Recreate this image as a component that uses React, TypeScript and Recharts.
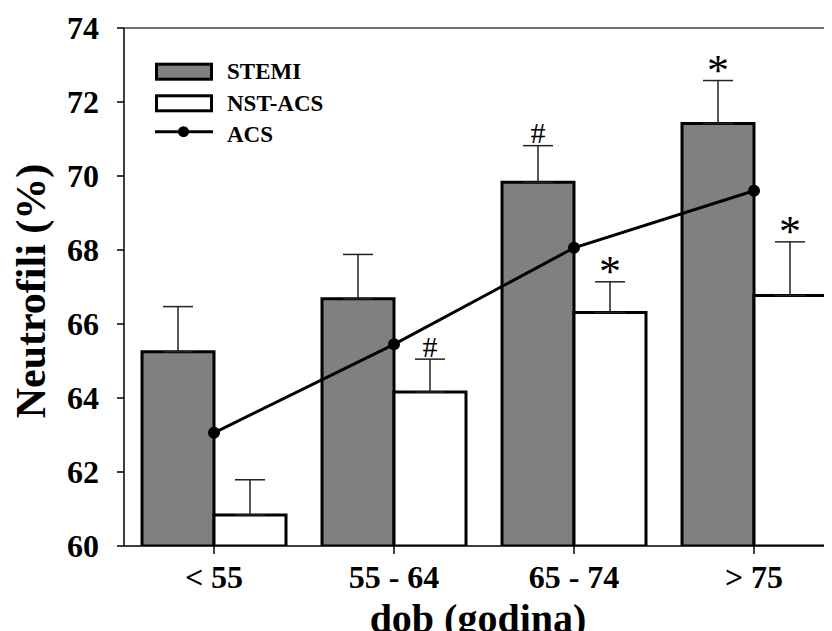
import React from 'react';
import { ComposedChart, Bar, Line, XAxis, YAxis, ErrorBar, ReferenceLine, Legend, Label } from 'recharts';

const categories = ['< 55', '55 - 64', '65 - 74', '> 75'];
const stemi = [65.25, 66.68, 69.83, 71.42];
const stemiErr = [1.22, 1.2, 0.99, 1.16];
const nst = [60.84, 64.16, 66.31, 66.77];
const nstErr = [0.95, 0.89, 0.83, 1.45];
const acs = [63.06, 65.45, 68.06, 69.6];
const stemiMark = ['', '', '#', '*'];
const nstMark = ['', '#', '*', '*'];
const yTicks = [60, 62, 64, 66, 68, 70, 72, 74];

const data = categories.map((c, i) => ({
  cat: c,
  stemi: stemi[i],
  stemiE: [0, stemiErr[i]],
  nst: nst[i],
  nstE: [0, nstErr[i]],
  acs: acs[i],
}));

const FONT = '"Liberation Serif", "Times New Roman", serif';
const BASE = 60;

function makeMark(values: number[], errs: number[], marks: string[]) {
  return (p: any) => {
    let idx = p.index;
    if (idx === undefined || idx === null) idx = values.indexOf(Number(p.value));
    if (idx < 0 || idx === undefined) return null;
    const m = marks[idx];
    if (!m) return null;
    const x = Number(p.x), y = Number(p.y), w = Number(p.width), h = Number(p.height);
    const ppu = h / (values[idx] - BASE);
    const capY = y - errs[idx] * ppu;
    const cx = x + w / 2;
    if (m === '#') {
      return (
        <text x={cx} y={capY - 2.5} textAnchor="middle" fontFamily={FONT} fontSize={30} fill="#000">#</text>
      );
    }
    return (
      <text x={cx} y={capY + 4} textAnchor="middle" fontFamily={FONT} fontSize={44} fill="#000">*</text>
    );
  };
}

const LegendBox = () => (
  <svg width={400} height={160} style={{ display: 'block' }}>
    <rect x={148.5} y={56.2} width={55} height={15} fill="#808080" stroke="#000" strokeWidth={3} />
    <text x={219} y={71.3} fontFamily={FONT} fontWeight="bold" fontSize={23} fill="#000">STEMI</text>
    <rect x={148.5} y={87.8} width={55} height={15} fill="#fff" stroke="#000" strokeWidth={3} />
    <text x={219} y={102.7} fontFamily={FONT} fontWeight="bold" fontSize={23} fill="#000">NST-ACS</text>
    <line x1={147} y1={123.7} x2={205} y2={123.7} stroke="#000" strokeWidth={3} />
    <circle cx={175.5} cy={123.7} r={5.5} fill="#000" />
    <text x={219} y={133.7} fontFamily={FONT} fontWeight="bold" fontSize={23} fill="#000">ACS</text>
  </svg>
);

const XTick = (p: any) => (
  <text x={p.x} y={p.y + 34} textAnchor="middle" fontFamily={FONT} fontWeight="bold" fontSize={32} fill="#000">
    {p.payload.value}
  </text>
);

const YLabel = () => (
  <text x={37} y={283} transform="rotate(-90, 37, 283)" textAnchor="middle" fontFamily={FONT} fontWeight="bold" fontSize={42} fill="#000">
    Neutrofili (%)
  </text>
);

const XLabel = () => (
  <text x={470} y={624} textAnchor="middle" fontFamily={FONT} fontWeight="bold" fontSize={40} fill="#000">
    dob (godina)
  </text>
);

export default function App() {
  return (
    <div style={{ width: 824, height: 623, overflow: 'hidden', position: 'relative', background: '#fff' }}>
      <ComposedChart
        width={840}
        height={640}
        data={data}
        margin={{ top: 20, right: 4, bottom: 0, left: 0 }}
        barCategoryGap="10%"
        barGap={0}
      >
        <XAxis
          dataKey="cat"
          height={102}
          tickSize={8}
          tickMargin={0}
          axisLine={{ stroke: '#000', strokeWidth: 1.5 }}
          tickLine={{ stroke: '#000', strokeWidth: 1.5 }}
          tick={<XTick />}
          interval={0}
        >
          <Label content={<XLabel />} />
        </XAxis>
        <YAxis
          width={116}
          domain={[60, 74]}
          ticks={yTicks}
          allowDataOverflow
          tickSize={7}
          tickMargin={18}
          axisLine={{ stroke: '#000', strokeWidth: 1.5 }}
          tickLine={{ stroke: '#000', strokeWidth: 1.5 }}
          tick={{ fill: '#000', fontSize: 32, fontWeight: 'bold', fontFamily: FONT }}
        >
          <Label content={<YLabel />} />
        </YAxis>
        <ReferenceLine y={74} stroke="#444" strokeWidth={1.5} />
        <Legend
          layout="vertical"
          align="center"
          verticalAlign="middle"
          wrapperStyle={{ position: 'absolute', left: 0, top: 0, width: 400, height: 160 }}
          content={() => <LegendBox />}
        />
        <Bar dataKey="stemi" name="STEMI" fill="#808080" stroke="#000" strokeWidth={3} isAnimationActive={false}
          label={makeMark(stemi, stemiErr, stemiMark)}>
          <ErrorBar dataKey="stemiE" width={15} stroke="#222" strokeWidth={1.5} isAnimationActive={false} />
        </Bar>
        <Bar dataKey="nst" name="NST-ACS" fill="#fff" stroke="#000" strokeWidth={3} isAnimationActive={false}
          label={makeMark(nst, nstErr, nstMark)}>
          <ErrorBar dataKey="nstE" width={15} stroke="#222" strokeWidth={1.5} isAnimationActive={false} />
        </Bar>
        <Line dataKey="acs" name="ACS" type="linear" stroke="#000" strokeWidth={3}
          dot={{ r: 6, fill: '#000', stroke: '#000', strokeWidth: 0 }} isAnimationActive={false} />
      </ComposedChart>
    </div>
  );
}
